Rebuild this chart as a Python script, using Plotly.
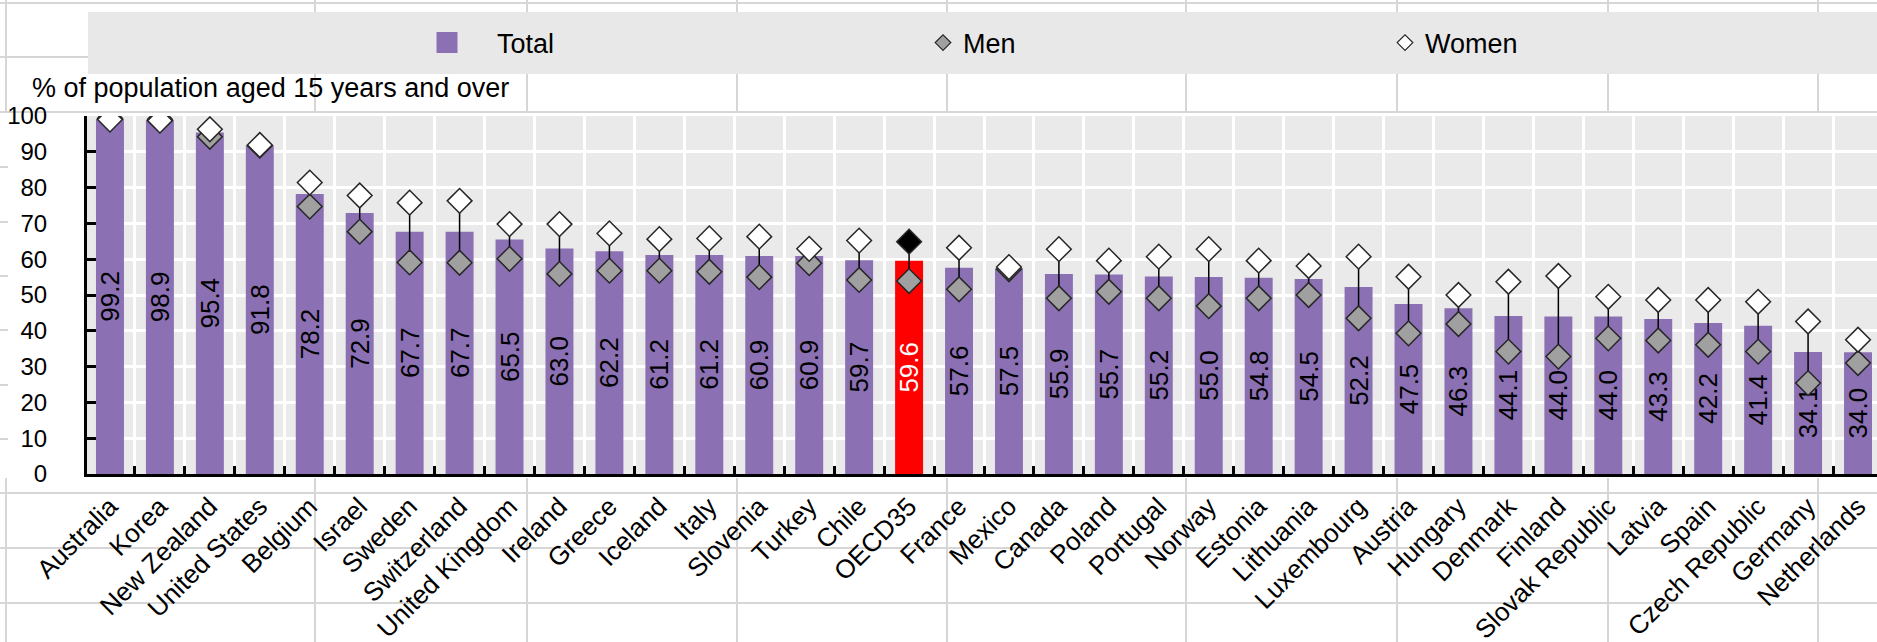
import plotly.graph_objects as go

countries = ["Australia", "Korea", "New Zealand", "United States", "Belgium", "Israel",
             "Sweden", "Switzerland", "United Kingdom", "Ireland", "Greece", "Iceland",
             "Italy", "Slovenia", "Turkey", "Chile", "OECD35", "France", "Mexico", "Canada",
             "Poland", "Portugal", "Norway", "Estonia", "Lithuania", "Luxembourg", "Austria",
             "Hungary", "Denmark", "Finland", "Slovak Republic", "Latvia", "Spain",
             "Czech Republic", "Germany", "Netherlands"]

total = [99.2, 98.9, 95.4, 91.8, 78.2, 72.9, 67.7, 67.7, 65.5, 63.0, 62.2, 61.2, 61.2, 60.9,
         60.9, 59.7, 59.6, 57.6, 57.5, 55.9, 55.7, 55.2, 55.0, 54.8, 54.5, 52.2, 47.5, 46.3,
         44.1, 44.0, 44.0, 43.3, 42.2, 41.4, 34.1, 34.0]

men = [99.4, 99.1, 94.2, 91.7, 74.7, 67.7, 59.1, 59.0, 60.1, 55.9, 56.8, 56.8, 56.5, 55.0,
       58.9, 54.2, 53.9, 51.6, 57.2, 49.1, 50.9, 49.1, 46.9, 49.1, 50.0, 43.5, 39.3, 41.9,
       34.2, 32.8, 37.9, 37.3, 36.1, 34.2, 25.4, 31.0]

women = [99.0, 98.7, 96.3, 91.9, 81.4, 77.8, 75.8, 76.3, 69.8, 69.8, 67.2, 65.6, 65.8, 66.3,
         62.9, 65.2, 64.9, 63.2, 57.8, 62.8, 59.6, 60.7, 62.8, 59.6, 58.1, 60.7, 55.1, 50.0,
         53.7, 55.3, 49.5, 48.6, 48.6, 48.1, 42.6, 37.5]

y_title = "% of population aged 15 years and over"
highlight = "OECD35"

# ---------------- layout geometry (pixels) ----------------
W, H = 1877, 642
ML, MR, MT, MB = 87, 0, 116, 168
PW = W - ML - MR
PH = H - MT - MB


def px_x(px):
    return (px - ML) / PW


def px_y(py):
    return (H - MB - py) / PH


FONT = "Liberation Sans, Arial, sans-serif"
FS_YTICK = 24
FS_XTICK = 26
FS_BAR = 26
FS_LEG = 27
PURPLE = "#8B71B3"
RED = "#FF0000"
GREY_M = "#A0A0A0"
OUTLINE = "#262626"
BG = "#EAEAEA"

bar_colors = [RED if c == highlight else PURPLE for c in countries]
text_colors = ["white" if c == highlight else "black" for c in countries]
women_colors = ["black" if c == highlight else "white" for c in countries]

fig = go.Figure()

fig.add_trace(go.Bar(
    x=countries, y=total, width=0.56,
    marker=dict(color=bar_colors, line=dict(width=0)),
    text=[f"{v:.1f}" for v in total],
    textposition="inside", insidetextanchor="middle", textangle=-90,
    textfont=dict(family=FONT, size=FS_BAR, color=text_colors),
    showlegend=False, hoverinfo="skip",
))

# connectors between men and women
lx, ly = [], []
for c, m, w in zip(countries, men, women):
    lx += [c, c, None]
    ly += [m, w, None]
fig.add_trace(go.Scatter(x=lx, y=ly, mode="lines", line=dict(color="black", width=1.5),
                         showlegend=False, hoverinfo="skip"))

fig.add_trace(go.Scatter(
    x=countries, y=men, mode="markers", name="Men", showlegend=False,
    marker=dict(symbol="diamond", size=19, color=GREY_M, line=dict(color=OUTLINE, width=1.5)),
))
fig.add_trace(go.Scatter(
    x=countries, y=women, mode="markers", name="Women", showlegend=False,
    marker=dict(symbol="diamond", size=19, color=women_colors, line=dict(color=OUTLINE, width=1.5)),
))

# legend entries
fig.add_trace(go.Scatter(x=[None], y=[None], mode="markers", name="\u00a0\u00a0\u00a0\u00a0Total",
                         legend="legend",
                         marker=dict(symbol="square", size=16, color=PURPLE,
                                     line=dict(color=PURPLE, width=5))))
fig.add_trace(go.Scatter(x=[None], y=[None], mode="markers", name="Men", legend="legend2",
                         marker=dict(symbol="diamond", size=12, color=GREY_M,
                                     line=dict(color=OUTLINE, width=1.2))))
fig.add_trace(go.Scatter(x=[None], y=[None], mode="markers", name="Women", legend="legend3",
                         marker=dict(symbol="diamond", size=12, color="white",
                                     line=dict(color=OUTLINE, width=1.2))))

leg_common = dict(orientation="h", yanchor="middle", xanchor="left", bgcolor="rgba(0,0,0,0)",
                  borderwidth=0, font=dict(family=FONT, size=FS_LEG, color="black"))

# spreadsheet-like background lines and legend band
SHEET = "#D6D6D6"
cols = [6, 315, 527, 737, 947, 1186, 1397, 1608, 1818]
rows_top = [3, 57, 112]
rows_mid = [167, 222, 276, 330, 385, 439]
rows_bot = [493, 548, 603]
shapes = []
for cx in cols:
    for (y0, y1) in [(0, 112), (478, H)]:
        shapes.append(dict(type="line", xref="paper", yref="paper", layer="below",
                           x0=px_x(cx), x1=px_x(cx), y0=px_y(y0), y1=px_y(y1),
                           line=dict(color=SHEET, width=2)))
for ry in rows_top + rows_bot:
    shapes.append(dict(type="line", xref="paper", yref="paper", layer="below",
                       x0=px_x(0), x1=px_x(W), y0=px_y(ry), y1=px_y(ry),
                       line=dict(color=SHEET, width=2)))
for ry in rows_mid:
    shapes.append(dict(type="line", xref="paper", yref="paper", layer="below",
                       x0=px_x(0), x1=px_x(8), y0=px_y(ry), y1=px_y(ry),
                       line=dict(color=SHEET, width=2)))
shapes.append(dict(type="rect", xref="paper", yref="paper", layer="below",
                   x0=px_x(88), x1=px_x(W), y0=px_y(74), y1=px_y(12),
                   fillcolor="#E8E8E8", line=dict(width=0)))

fig.update_layout(
    width=W, height=H,
    margin=dict(l=ML, r=MR, t=MT, b=MB, autoexpand=False),
    paper_bgcolor="white", plot_bgcolor=BG,
    font=dict(family=FONT, size=FS_YTICK, color="black"),
    uniformtext=dict(minsize=FS_BAR, mode="show"),
    shapes=shapes,
    legend=dict(leg_common, x=px_x(427), y=px_y(43)),
    legend2=dict(leg_common, x=px_x(923), y=px_y(43)),
    legend3=dict(leg_common, x=px_x(1385), y=px_y(43)),
    annotations=[dict(text=y_title, xref="paper", yref="paper", x=px_x(30), y=px_y(88),
                      xanchor="left", yanchor="middle", showarrow=False,
                      font=dict(family=FONT, size=FS_LEG, color="black"))],
    xaxis=dict(
        type="category", categoryorder="array", categoryarray=countries,
        range=[-0.46, 35.38], tickangle=-45, ticks="inside", tickson="boundaries",
        ticklen=8, tickwidth=3, tickcolor="black",
        showline=True, linewidth=3, linecolor="black",
        showgrid=True, gridcolor="white", gridwidth=3, automargin=False,
        ticklabelstandoff=4,
        tickfont=dict(family=FONT, size=FS_XTICK, color="black"),
    ),
    yaxis=dict(
        range=[0, 100], dtick=10, ticks="inside", ticklen=9, tickwidth=3, tickcolor="black",
        showline=True, linewidth=3, linecolor="black", zeroline=False,
        showgrid=True, gridcolor="white", gridwidth=3, automargin=False,
        ticklabelstandoff=32,
        tickfont=dict(family=FONT, size=FS_YTICK, color="black"),
    ),
)

fig.write_html("out.html", config={"displayModeBar": False},
               post_script="document.body.style.margin='0';document.body.style.overflow='hidden';")
